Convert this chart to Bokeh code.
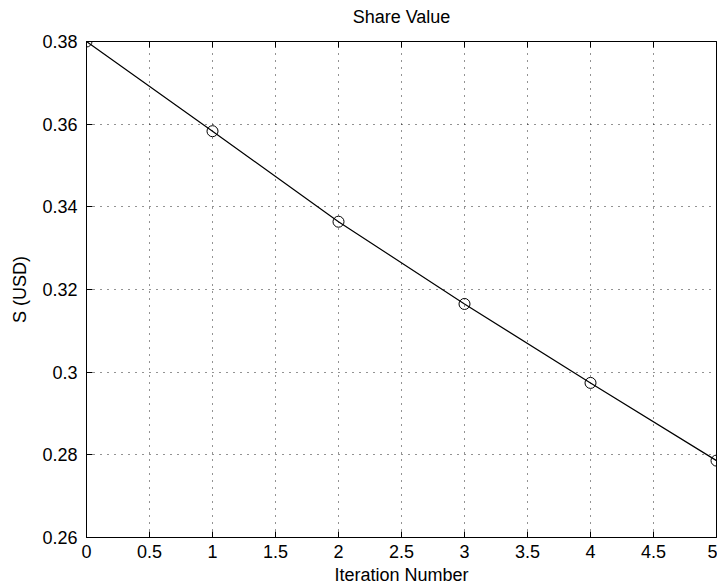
from bokeh.plotting import figure
from bokeh.models import FixedTicker, Range1d, LinearAxis, CustomLabelingPolicy
from bokeh.embed import file_html
from bokeh.resources import INLINE

iterations = [0, 1, 2, 3, 4, 5]
share_value = [0.380, 0.3583, 0.3364, 0.3165, 0.2974, 0.2786]

x_ticks = [0, 0.5, 1, 1.5, 2, 2.5, 3, 3.5, 4, 4.5, 5]
x_tick_labels = ["0", "0.5", "1", "1.5", "2", "2.5", "3", "3.5", "4", "4.5", "5"]
y_ticks = [0.26, 0.28, 0.30, 0.32, 0.34, 0.36, 0.38]
y_tick_labels = ["0.26", "0.28", "0.3", "0.32", "0.34", "0.36", "0.38"]

FONT = "Liberation Sans"

p = figure(
    frame_width=630, frame_height=496,
    x_range=Range1d(0, 5), y_range=Range1d(0.26, 0.38),
    output_backend="svg", toolbar_location=None,
    min_border_left=86, min_border_top=41, min_border_right=1, min_border_bottom=49,
    title="Share Value",
)
p.background_fill_color = "white"
p.border_fill_color = "white"
p.outline_line_color = "black"
p.outline_line_width = 1

p.title.align = "center"
p.title.text_font = FONT
p.title.text_font_size = "18px"
p.title.text_font_style = "normal"
p.title.text_color = "black"
p.title.standoff = 7

for ax in (p.xaxis[0], p.yaxis[0]):
    ax.major_tick_out = 0
    ax.major_tick_in = 6
    ax.minor_tick_out = 0
    ax.minor_tick_in = 0
    ax.axis_line_color = "black"
    ax.major_tick_line_color = "black"
    ax.major_label_text_font = FONT
    ax.major_label_text_font_size = "18px"
    ax.major_label_text_color = "black"
    ax.axis_label_text_font = FONT
    ax.axis_label_text_font_size = "18px"
    ax.axis_label_text_font_style = "normal"
    ax.axis_label_text_color = "black"

p.xaxis[0].ticker = FixedTicker(ticks=x_ticks)
p.xaxis[0].major_label_overrides = dict(zip(x_ticks, x_tick_labels))
p.xaxis[0].axis_label = "Iteration Number"
p.xaxis[0].major_label_standoff = 7
p.xaxis[0].axis_label_standoff = 4

p.yaxis[0].ticker = FixedTicker(ticks=y_ticks)
p.yaxis[0].major_label_overrides = dict(zip(y_ticks, y_tick_labels))
p.yaxis[0].axis_label = "S (USD)"
p.yaxis[0].major_label_standoff = 9
p.yaxis[0].axis_label_standoff = 9

hide_all = CustomLabelingPolicy(code="""
for (const i of indices)
    indices.unset(i)
return indices
""")
top_axis = LinearAxis(ticker=FixedTicker(ticks=x_ticks), major_label_policy=hide_all,
                      major_tick_out=0, major_tick_in=6, minor_tick_out=0, minor_tick_in=0,
                      major_label_standoff=0, axis_line_color="black",
                      major_tick_line_color="black")
p.add_layout(top_axis, "above")

for g in (p.xgrid[0], p.ygrid[0]):
    g.grid_line_color = "black"
    g.grid_line_dash = "1 6"
    g.grid_line_width = 1
    g.grid_line_alpha = 0.85
p.xgrid[0].ticker = FixedTicker(ticks=x_ticks)
p.ygrid[0].ticker = FixedTicker(ticks=y_ticks)

p.line(iterations, share_value, line_color="black", line_width=1.2)
p.scatter(iterations, share_value, marker="circle", size=11, fill_color=None,
          line_color="black", line_width=1)

open("out.html", "w").write(file_html(p, INLINE))
